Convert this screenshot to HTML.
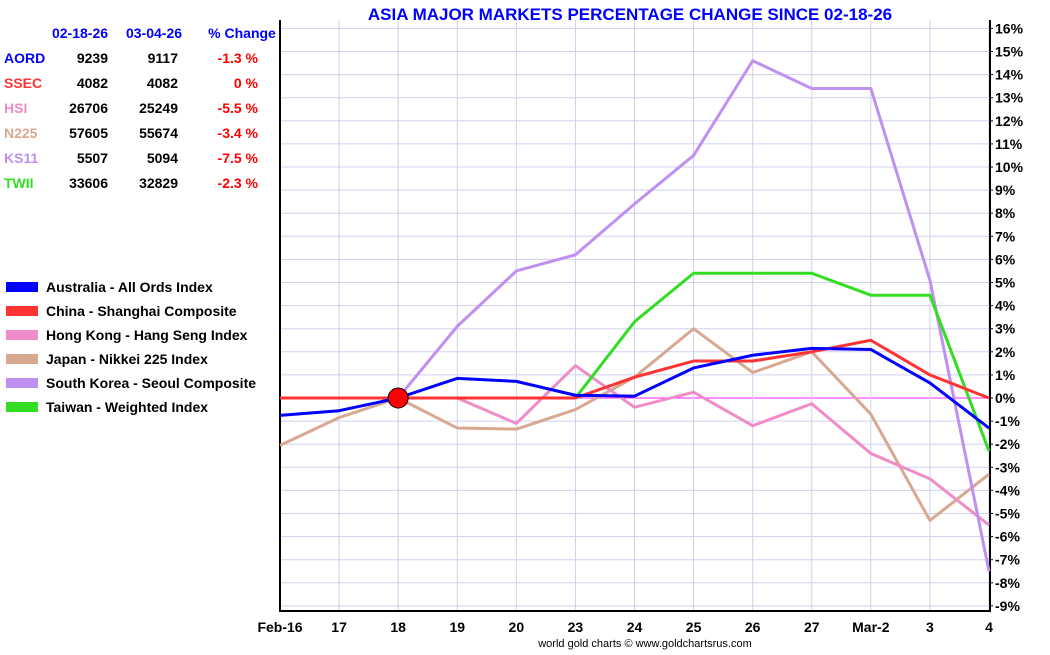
<!DOCTYPE html>
<html><head><meta charset="utf-8"><style>
body{margin:0;background:#fff;width:1050px;height:650px;overflow:hidden;font-family:"Liberation Sans",Arial,sans-serif}
svg text{font-family:"Liberation Sans",Arial,sans-serif;font-weight:bold}
</style></head><body>
<svg id="c" width="1050" height="650"></svg>
<script>
const cats=["Feb-16","17","18","19","20","23","24","25","26","27","Mar-2","3","4"];
const yTicks=[16,15,14,13,12,11,10,9,8,7,6,5,4,3,2,1,0,-1,-2,-3,-4,-5,-6,-7,-8,-9];
const aord=[-0.75,-0.55,0,0.85,0.72,0.12,0.08,1.3,1.85,2.15,2.1,0.65,-1.3];
const ssec=[0,0,0,0,0,0,0.9,1.6,1.6,2.0,2.5,1.0,0];
const hsi=[0,0,0,0,-1.1,1.4,-0.4,0.25,-1.2,-0.25,-2.4,-3.5,-5.5];
const n225=[-2.05,-0.85,0,-1.3,-1.35,-0.5,0.9,3.0,1.1,2.0,-0.7,-5.3,-3.3];
const ks11=[0,0,0,3.1,5.5,6.2,8.4,10.5,14.6,13.4,13.4,5.1,-7.5];
const twii=[0,0,0,0,0,0,3.3,5.4,5.4,5.4,4.45,4.45,-2.3];
const names=["Australia - All Ords Index","China - Shanghai Composite","Hong Kong - Hang Seng Index","Japan - Nikkei 225 Index","South Korea - Seoul Composite","Taiwan - Weighted Index"];
const codes=["AORD","SSEC","HSI","N225","KS11","TWII"];
const v1=["9239","4082","26706","57605","5507","33606"];
const v2=["9117","4082","25249","55674","5094","32829"];
const chg=["-1.3 %","0 %","-5.5 %","-3.4 %","-7.5 %","-2.3 %"];
const colors=["#0000ff","#ff3333","#f08cc8","#d8a890","#c090f0","#33dd22"];
const series=[n225,hsi,ks11,twii,ssec,aord];
const sColors=["#d8a890","#f08cc8","#c090f0","#33dd22","#ff3333","#0000ff"];
const sNames=["n225-line","hsi-line","ks11-line","twii-line","ssec-line","aord-line"];
const X0=280,X1=989,Y0=398,PY=23.1;
const x=i=>X0+i*(X1-X0)/(cats.length-1);
const y=v=>Y0-v*PY;
const svg=document.getElementById('c');
const NS="http://www.w3.org/2000/svg";
function mk(t,a,p){const e=document.createElementNS(NS,t);for(const k in a)e.setAttribute(k,a[k]);(p||svg).appendChild(e);return e;}
// grid
yTicks.forEach(v=>{
 const l=mk('line',{x1:X0,x2:X1,y1:y(v),y2:y(v),stroke:v===0?'#ff22ff':'#d0d0f0','stroke-width':1});
 
 
 const t=mk('text',{x:X1+6,y:y(v)+5,'font-size':14,fill:'#000'});t.textContent=v+'%';
 
 
 mk('line',{x1:X1,x2:X1+4,y1:y(v),y2:y(v),stroke:'#000'});
});
cats.forEach((c,i)=>{
 const l=mk('line',{x1:x(i),x2:x(i),y1:y(16)-8,y2:611,stroke:'#d0d0f0'});
 
 
 const t=mk('text',{x:x(i),y:632,'font-size':14,'text-anchor':'middle',fill:'#000'});t.textContent=c;
 
 
});
mk('line',{x1:X0,x2:X0,y1:20,y2:612,stroke:'#000','stroke-width':2});
mk('line',{x1:X1+1,x2:X1+1,y1:20,y2:612,stroke:'#000','stroke-width':2});
mk('line',{x1:X0,x2:X1+1,y1:611,y2:611,stroke:'#000','stroke-width':2});
series.forEach((s,k)=>{
 const p=mk('polyline',{points:s.map((v,i)=>x(i)+','+y(v)).join(' '),fill:'none',stroke:sColors[k],'stroke-width':3,'stroke-linejoin':'round'});
 
 
});
const m=mk('circle',{cx:x(2),cy:y(0),r:10,fill:'#ff0000',stroke:'#000','stroke-width':1});


const ti=mk('text',{x:630,y:20,'font-size':17,'text-anchor':'middle',fill:'#0000ff'});ti.textContent="ASIA MAJOR MARKETS PERCENTAGE CHANGE SINCE 02-18-26";


const cr=mk('text',{x:645,y:647,'font-size':11,'text-anchor':'middle',fill:'#000'});cr.textContent="world gold charts © www.goldchartsrus.com";
cr.style.fontWeight='normal';


// table
[["02-18-26",80],["03-04-26",154],["% Change",242]].forEach(h=>{
 const t=mk('text',{x:h[1],y:38,'font-size':14,'text-anchor':'middle',fill:'#0000ff'});t.textContent=h[0];
 
 
});
codes.forEach((c,i)=>{
 const yy=63+i*25;
 const a=mk('text',{x:4,y:yy,'font-size':14,fill:colors[i]});a.textContent=c;
 
 
 const b=mk('text',{x:108,y:yy,'font-size':14,'text-anchor':'end',fill:'#000'});b.textContent=v1[i];
 
 
 const d=mk('text',{x:178,y:yy,'font-size':14,'text-anchor':'end',fill:'#000'});d.textContent=v2[i];
 
 
 const e=mk('text',{x:258,y:yy,'font-size':14,'text-anchor':'end',fill:'#ff0000'});e.textContent=chg[i];
 
 
});
names.forEach((n,i)=>{
 const yy=288+i*24;
 const r=mk('rect',{x:6,y:yy-6,width:32,height:10,fill:colors[i]});
 
 
 const t=mk('text',{x:46,y:yy+4,'font-size':14,fill:'#000'});t.textContent=n;
 
 
});
</script>
</body></html>
